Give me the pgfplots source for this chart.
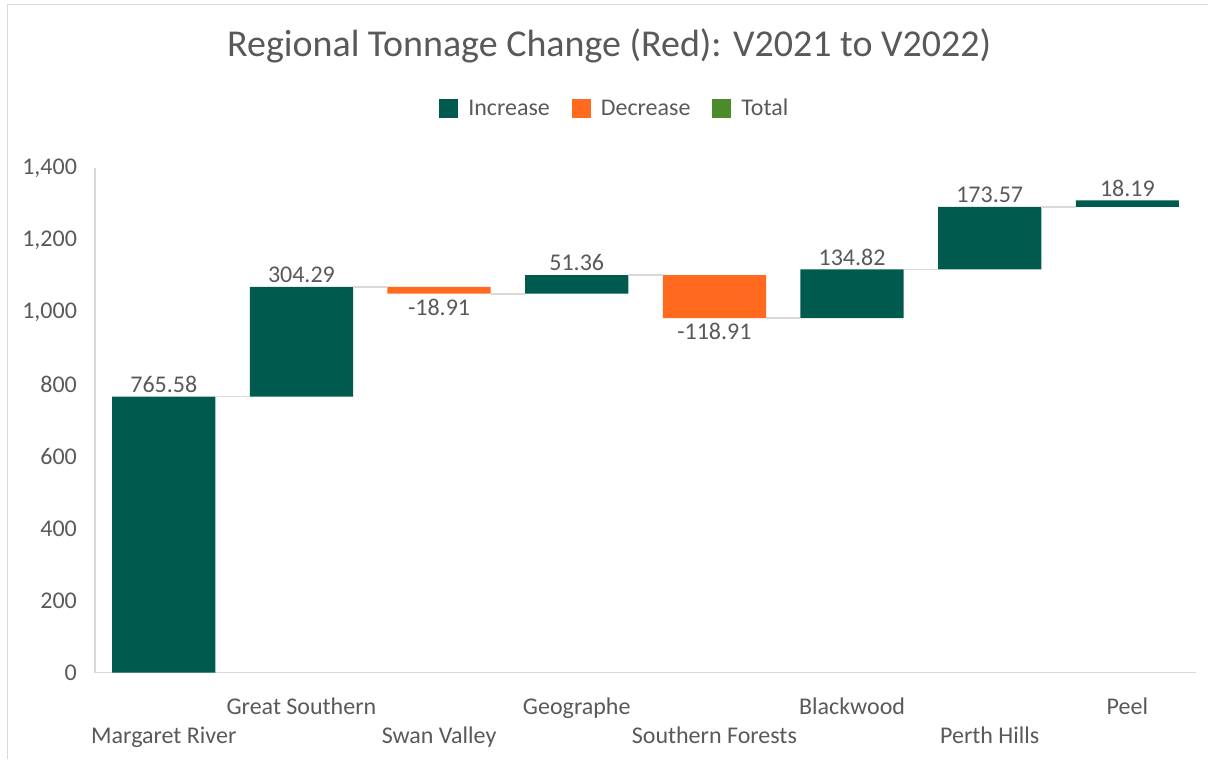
\documentclass[border=0pt]{standalone}
\usepackage{pgfplots}
\pgfplotsset{compat=1.18}
\usepackage{fontspec}
\setmainfont{Carlito}
\definecolor{inc}{HTML}{005A4E}
\definecolor{dec}{HTML}{FF6A1F}
\definecolor{tot}{HTML}{4B8B2B}
\definecolor{txt}{HTML}{595959}
\definecolor{axl}{HTML}{D9D9D9}
\begin{document}
\begin{tikzpicture}
\path (0,0) rectangle (604.5pt,380pt);
\draw[axl, line width=0.8pt] (3.8pt,0) -- (3.8pt,377.8pt) -- (604.5pt,377.8pt);
\pgfplotsset{
  common/.style={
    at={(47.5pt,43.5pt)}, anchor=south west,
    scale only axis, width=551pt, height=252.5pt,
    xmin=-0.5, xmax=7.5, ymin=0, ymax=1400,
    font=\fontsize{12}{14}\selectfont, text=txt,
  }
}
\begin{axis}[common,
  ybar stacked, bar width=0.75,
  axis x line*=bottom, axis y line*=left,
  axis line style={axl, line width=0.8pt},
  x axis line style={-}, y axis line style={-},
  major tick length=0pt,
  ytick={0,200,...,1400},
  scaled y ticks=false,
  /pgf/number format/1000 sep={,},
  /pgf/number format/assume math mode=true,
  yticklabel style={text=txt, xshift=-5.5pt},
  xtick={1,3,5,7}, xticklabels={Great Southern, Geographe, Blackwood, Peel},
  xticklabel style={text=txt, yshift=-9pt},
  extra x ticks={0,2,4,6},
  extra x tick labels={Margaret River, Swan Valley, Southern Forests, Perth Hills},
  extra x tick style={xticklabel style={yshift=-14.5pt}},
  title={Regional Tonnage Change (Red): V2021 to V2022)},
  title style={at={(0.467,1.2436)}, anchor=center, yshift=-6.5pt, font=\fontsize{19}{22}\selectfont, text=txt},
  legend style={at={(0.473,1.117)}, anchor=center, draw=none, fill=none,
    legend columns=3, font=\fontsize{12}{14}\selectfont, text=txt,
    /tikz/every even column/.append style={column sep=9pt}},
  legend image code/.code={\fill[#1, draw=none] (0pt,-4.75pt) rectangle (9.5pt,4.75pt); \path (12.5pt,0pt);},
]
\addplot[draw=none, fill=none, forget plot] coordinates {
 (0,0) (1,765.58) (2,1050.96) (3,1050.96) (4,983.41) (5,983.41) (6,1118.23) (7,1291.80)};
\addplot[draw=none, fill=inc] coordinates {
 (0,765.58) (1,304.29) (2,0) (3,51.36) (4,0) (5,134.82) (6,173.57) (7,18.19)};
\addplot[draw=none, fill=dec] coordinates {
 (0,0) (1,0) (2,18.91) (3,0) (4,118.91) (5,0) (6,0) (7,0)};
\addlegendentry{Increase}
\addlegendentry{Decrease}
\addlegendimage{draw=none, fill=tot}
\addlegendentry{Total}
\end{axis}
\begin{axis}[common, axis lines=none, unbounded coords=jump,
  nodes near coords style={font=\fontsize{12}{14}\selectfont, text=txt}]
\addplot[axl, line width=0.9pt] coordinates {
 (0.375,765.58) (0.625,765.58) (0.7,nan)
 (1.375,1069.87) (1.625,1069.87) (1.7,nan)
 (2.375,1050.96) (2.625,1050.96) (2.7,nan)
 (3.375,1102.32) (3.625,1102.32) (3.7,nan)
 (4.375,983.41) (4.625,983.41) (4.7,nan)
 (5.375,1118.23) (5.625,1118.23) (5.7,nan)
 (6.375,1291.80) (6.625,1291.80)};
\addplot[draw=none, mark=none, nodes near coords, point meta=explicit symbolic,
  nodes near coords align={above}, every node near coord/.append style={yshift=-1.5pt}] coordinates {
 (0,765.58)[765.58] (1,1069.87)[304.29] (3,1102.32)[51.36]
 (5,1118.23)[134.82] (6,1291.80)[173.57] (7,1309.99)[18.19]};
\addplot[draw=none, mark=none, nodes near coords, point meta=explicit symbolic,
  nodes near coords align={below}, every node near coord/.append style={yshift=1pt}] coordinates {
 (2,1050.96)[-18.91] (4,983.41)[-118.91]};
\end{axis}
\end{tikzpicture}
\end{document}
